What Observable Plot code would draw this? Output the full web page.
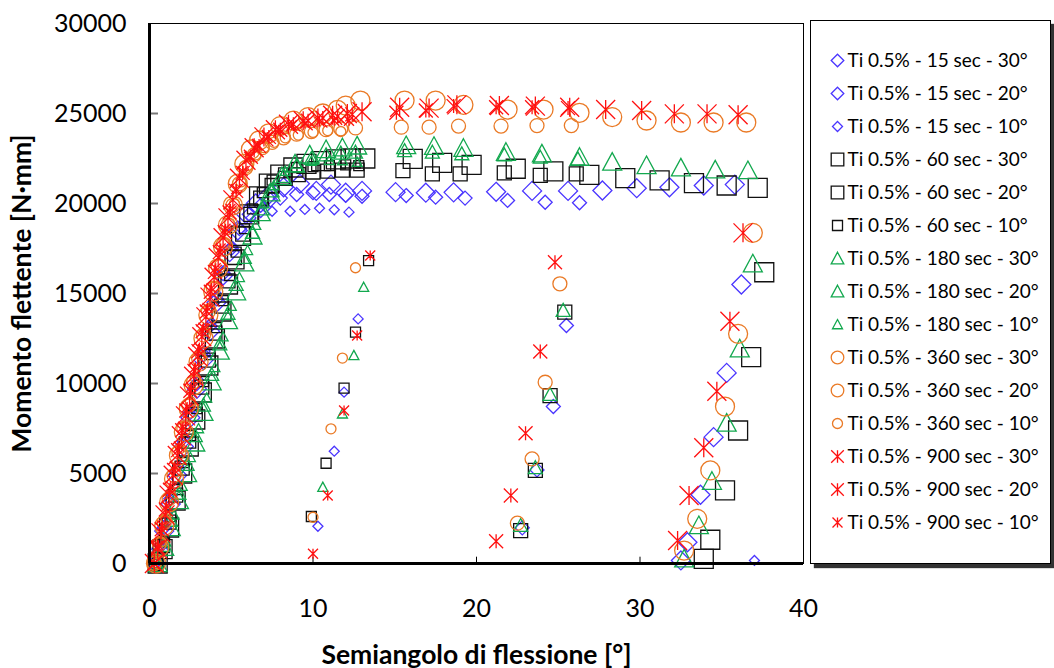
<!DOCTYPE html>
<html><head><meta charset="utf-8">
<script src="https://cdn.jsdelivr.net/npm/d3@7"></script>
<script src="https://cdn.jsdelivr.net/npm/@observablehq/plot@0.6"></script>
<style>
html,body{margin:0;padding:0;background:#fff;}
#wrap{position:relative;width:1054px;height:668px;font-family:Lato,sans-serif;}
#legend{position:absolute;left:810px;top:20px;width:241px;height:544px;box-sizing:border-box;border:1.5px solid #000;background:#fff;box-shadow:4px 4px 1px #333;}
#legend svg,#chart svg{display:block;}
</style></head><body>
<div id="wrap"><div id="chart"></div><div id="legend"></div></div>
<script>
// ---------- data ----------
const xTicks = [0, 10, 20, 30, 40];
const yTicks = [0, 5000, 10000, 15000, 20000, 25000, 30000];

const labels = [
  "Ti 0.5% - 15 sec - 30°", "Ti 0.5% - 15 sec - 20°", "Ti 0.5% - 15 sec - 10°",
  "Ti 0.5% - 60 sec - 30°", "Ti 0.5% - 60 sec - 20°", "Ti 0.5% - 60 sec - 10°",
  "Ti 0.5% - 180 sec - 30°", "Ti 0.5% - 180 sec - 20°", "Ti 0.5% - 180 sec - 10°",
  "Ti 0.5% - 360 sec - 30°", "Ti 0.5% - 360 sec - 20°", "Ti 0.5% - 360 sec - 10°",
  "Ti 0.5% - 900 sec - 30°", "Ti 0.5% - 900 sec - 20°", "Ti 0.5% - 900 sec - 10°"
];

// 15 sec (diamonds)
const s15_30 = [[0.4,0],[0.6,700],[0.9,1800],[1.3,3300],[1.7,4900],[2.1,6500],[2.5,8100],[2.9,9700],[3.3,11300],[3.7,12900],[4.1,14500],[4.5,16000],[4.9,17300],[5.4,18500],[5.9,19400],[6.5,20000],[7.2,20400],
  [8.2,20900],[9.2,21100],[10.2,20700],[11.1,21050],[12.0,20600],[13.0,20700],[15.05,20630],[16.9,20600],[18.6,20620],[21.2,20650],[23.4,20700],[25.6,20700],[27.7,20720],[29.8,20850],[31.8,20900],[33.9,21000],[35.8,21050],
  [36.2,15500],[35.3,10590],[34.5,7020],[33.7,3820],[32.9,1180],[32.5,170]];
const s15_20 = [[0.3,0],[0.6,900],[0.9,2000],[1.3,3600],[1.7,5200],[2.1,6800],[2.5,8400],[2.9,10000],[3.3,11600],[3.7,13200],[4.1,14700],[4.5,16100],[5.0,17500],[5.5,18600],[6.1,19400],[6.8,19900],[7.4,20200],
  [8.0,20300],[9.0,20500],[10.0,20600],[11.0,20500],[12.0,20450],[13.0,20400],[15.7,20440],[17.5,20350],[19.3,20300],[21.9,20170],[24.2,20070],[26.3,20040],
  [25.5,13220],[24.7,8720],[23.7,5200],[22.8,1980]];
const s15_10 = [[0.4,0],[0.7,1000],[1.0,2200],[1.4,3800],[1.8,5400],[2.2,7000],[2.6,8600],[3.0,10200],[3.4,11800],[3.8,13400],[4.2,14900],[4.6,16300],[5.1,17600],[5.6,18600],[6.2,19200],[6.8,19500],
  [7.5,19570],[8.6,19570],[9.5,19670],[10.4,19740],[11.3,19650],[12.2,19520],
  [12.76,13590],[11.9,9520],[11.3,6240],[10.3,2070],[37.0,170]];

// 60 sec (squares)
const s60_30 = [[0.5,0],[0.8,800],[1.2,2000],[1.6,3500],[2.0,5000],[2.4,6500],[2.8,8000],[3.2,9500],[3.6,11000],[4.0,12500],[4.4,14000],[4.8,15500],[5.2,16900],[5.6,18200],[6.1,19400],[6.7,20400],[7.3,21100],[8.0,21600],[8.8,22000],[9.6,22200],[10.5,22350],[11.4,22450],[12.3,22500],[13.2,22500],
  [16.1,22480],[17.9,22260],[19.7,22150],[22.4,21930],[24.7,21780],[26.9,21590],[29.1,21410],[31.2,21280],[33.3,21130],[35.3,21000],[37.2,20870],
  [37.6,16180],[36.8,11460],[36.0,7390],[35.2,4060],[34.3,1320],[33.9,260]];
const s60_20 = [[0.4,0],[0.8,1000],[1.2,2300],[1.6,3800],[2.0,5300],[2.4,6800],[2.8,8300],[3.2,9800],[3.6,11300],[4.0,12800],[4.4,14300],[4.8,15700],[5.2,17000],[5.7,18300],[6.2,19400],[6.8,20300],[7.5,21000],[8.3,21400],[9.1,21600],[10.0,21750],[10.9,21800],[11.8,21850],[12.7,21850],
  [15.5,21830],[17.3,21650],[19.0,21650],[21.7,21700],[23.9,21560],[26.1,21650],
  [25.4,13960],[24.5,9330],[23.6,5170],[22.7,1830]];
const s60_10 = [[0.5,0],[0.9,1200],[1.3,2600],[1.7,4100],[2.1,5600],[2.5,7100],[2.9,8600],[3.3,10100],[3.7,11600],[4.1,13100],[4.5,14600],[4.9,16000],[5.3,17300],[5.8,18600],[6.3,19700],[6.9,20600],[7.5,21300],[8.2,21700],[9.0,22000],[10.0,22050],[11.0,22100],[12.0,22150],[12.8,22100],
  [13.4,16830],[12.6,12850],[11.9,9740],[10.8,5570],[9.9,2610]];

// 180 sec (triangles)
const s180_30 = [[0.5,0],[0.9,900],[1.3,2000],[1.8,3500],[2.3,5000],[2.8,6700],[3.3,8400],[3.8,10100],[4.3,11800],[4.8,13500],[5.3,15100],[5.8,16700],[6.3,18200],[6.8,19500],[7.4,20600],[8.1,21500],[8.9,22200],[9.8,22700],[10.8,23000],[11.8,23100],[12.7,23200],
  [15.7,23220],[17.4,23180],[19.2,23070],[21.8,22850],[24.0,22760],[26.3,22570],[28.3,22300],[30.4,22110],[32.5,21980],[34.6,21870],[36.6,21830],
  [36.9,16650],[36.1,11930],[35.3,7800],[34.4,4570],[33.6,2110],[32.7,260]];
const s180_20 = [[0.4,0],[0.8,1000],[1.3,2400],[1.8,3900],[2.3,5500],[2.8,7100],[3.3,8800],[3.8,10500],[4.3,12200],[4.8,13900],[5.3,15500],[5.8,17000],[6.3,18400],[6.9,19700],[7.5,20700],[8.2,21500],[9.0,22100],[9.9,22500],[10.8,22700],[11.7,22800],[12.6,22850],
  [15.6,22940],[17.3,22850],[19.1,22760],[21.7,22700],[23.9,22570],[26.2,22480],
  [25.3,14060],[24.5,9390],[23.6,5320],[22.7,2110]];
const s180_10 = [[0.5,0],[1.0,1200],[1.5,2700],[2.0,4300],[2.5,5900],[3.0,7500],[3.5,9200],[4.0,10900],[4.5,12600],[5.0,14300],[5.5,15900],[6.0,17400],[6.5,18800],[7.0,20000],[7.6,21000],[8.3,21800],[9.0,22200],[9.9,22350],[11.0,22400],[11.8,22390],[12.7,22300],
  [13.1,15350],[12.5,11560],[11.8,8320],[10.6,4240]];

// 360 sec (circles)
const s360_30 = [[0.4,0],[0.6,900],[0.9,2100],[1.2,3400],[1.5,4700],[1.8,6000],[2.1,7300],[2.4,8600],[2.7,9900],[3.0,11200],[3.3,12500],[3.6,13800],[3.9,15100],[4.2,16400],[4.5,17600],[4.8,18800],[5.1,19900],[5.4,21100],[5.8,22200],[6.2,23000],[6.7,23500],[7.3,23900],[8.0,24300],[8.8,24600],[9.7,24800],[10.6,25000],[11.5,25200],[12.0,25440],[12.9,25720],
  [15.6,25720],[17.5,25720],[19.2,25480],[21.9,25220],[24.1,25220],[26.3,25040],[28.3,24800],[30.4,24610],[32.5,24500],[34.5,24500],[36.5,24500],
  [36.9,18370],[36.0,12760],[35.2,8720],[34.3,5170],[33.5,2480],[32.7,720]];
const s360_20 = [[0.3,0],[0.6,1100],[0.9,2300],[1.2,3600],[1.5,4900],[1.8,6200],[2.1,7500],[2.4,8800],[2.7,10100],[3.0,11400],[3.3,12700],[3.6,14000],[3.9,15300],[4.2,16500],[4.5,17700],[4.8,18800],[5.1,19900],[5.5,21100],[5.9,22000],[6.4,22700],[6.9,23100],[7.5,23400],[8.2,23650],[9.0,23850],[9.9,24000],[10.8,24100],[11.7,24150],[12.6,24200],
  [15.4,24240],[17.1,24240],[18.9,24300],[21.5,24300],[23.7,24330],[25.8,24330],
  [25.1,15540],[24.2,10070],[23.4,5810],[22.5,2240]];
const s360_10 = [[0.4,0],[0.7,1200],[1.0,2500],[1.3,3800],[1.6,5100],[1.9,6400],[2.2,7700],[2.5,9000],[2.8,10300],[3.1,11600],[3.4,12900],[3.7,14200],[4.0,15400],[4.3,16600],[4.6,17800],[4.9,18900],[5.2,20000],[5.6,21200],[6.0,22100],[6.5,22700],[7.0,23100],[7.6,23400],[8.3,23650],[9.1,23800],[10.0,23950],[10.9,24050],[11.7,24000],
  [12.6,16430],[11.8,11410],[11.1,7480],[10.0,2570]];

// 900 sec (asterisks)
const s900_30 = [[0.3,0],[0.5,800],[0.7,1700],[0.95,2700],[1.2,3800],[1.45,4900],[1.7,6000],[1.95,7100],[2.2,8200],[2.45,9300],[2.7,10400],[2.95,11500],[3.2,12600],[3.45,13700],[3.7,14800],[3.95,15900],[4.2,17000],[4.5,18100],[4.8,19200],[5.1,20200],[5.5,21400],[5.9,22400],[6.4,23100],[7.0,23700],[7.7,24100],[8.5,24400],[9.4,24600],[10.3,24750],[11.2,24900],[12.1,25000],[13.0,25100],
  [15.3,25350],[17.1,25300],[18.8,25480],[21.4,25440],[23.6,25410],[25.7,25350],[27.9,25220],[30.1,25170],[32.1,24980],[34.1,24980],[36.0,24930],
  [36.3,18370],[35.5,13460],[34.7,9570],[33.9,6430],[33.0,3780],[32.3,1280]];
const s900_20 = [[0.3,0],[0.5,900],[0.75,1900],[1.0,3000],[1.25,4100],[1.5,5200],[1.75,6300],[2.0,7400],[2.25,8500],[2.5,9600],[2.75,10700],[3.0,11800],[3.25,12900],[3.5,14000],[3.75,15100],[4.0,16200],[4.3,17300],[4.6,18400],[4.9,19500],[5.3,20700],[5.7,21700],[6.2,22600],[6.7,23200],[7.3,23700],[8.0,24100],[8.8,24400],[9.7,24600],[10.6,24750],[11.5,24850],[12.4,24950],
  [15.1,25040],[16.9,25170],[18.6,25410],[21.2,25350],[23.4,25350],[25.6,25300],
  [24.8,16740],[23.9,11780],[23.0,7240],[22.1,3780],[21.2,1240]];
const s900_10 = [[0.3,0],[0.55,1000],[0.8,2100],[1.05,3200],[1.3,4300],[1.55,5400],[1.8,6500],[2.05,7600],[2.3,8700],[2.55,9800],[2.8,10900],[3.05,12000],[3.3,13100],[3.55,14200],[3.8,15300],[4.05,16400],[4.35,17500],[4.65,18600],[4.95,19700],[5.3,20800],[5.7,21800],[6.1,22600],[6.6,23200],[7.2,23700],[7.9,24100],[8.7,24350],[9.5,24450],[10.4,24550],[11.3,24600],[12.2,24600],
  [13.5,17110],[12.7,12670],[11.9,8500],[10.9,3780],[10.0,540]];

const seriesData = [s15_30, s15_20, s15_10, s60_30, s60_20, s60_10, s180_30, s180_20, s180_10, s360_30, s360_20, s360_10, s900_30, s900_20, s900_10];

// ---------- styles ----------
const symDiamond = {draw(c, s) { const h = Math.sqrt(s / Math.PI); c.moveTo(0, -h); c.lineTo(h, 0); c.lineTo(0, h); c.lineTo(-h, 0); c.closePath(); }};
const symSquare = {draw(c, s) { const h = Math.sqrt(s / Math.PI); c.moveTo(-h, -h); c.lineTo(h, -h); c.lineTo(h, h); c.lineTo(-h, h); c.closePath(); }};
const symTriangle = {draw(c, s) { const h = Math.sqrt(s / Math.PI); c.moveTo(0, -h); c.lineTo(h, h * 0.85); c.lineTo(-h, h * 0.85); c.closePath(); }};
const symCircle = {draw(c, s) { const h = Math.sqrt(s / Math.PI); c.moveTo(h, 0); c.arc(0, 0, h, 0, 2 * Math.PI); c.closePath(); }};
const symStar = {draw(c, s) { const h = Math.sqrt(s / Math.PI); c.moveTo(0, -h); c.lineTo(0, h); c.moveTo(-h, -h); c.lineTo(h, h); c.moveTo(-h, h); c.lineTo(h, -h); }};

const groupSymbols = [symDiamond, symSquare, symTriangle, symCircle, symStar];
const groupColors = ["#4A35FF", "#111111", "#12A84E", "#EA7A26", "#FF1010"];
const plotSizes = [9.5, 7, 5];
const legendSizes = [6.3, 6.3, 5];

// ---------- main chart ----------
const marks = [
  Plot.frame({stroke: "#000", strokeWidth: 1}),
  Plot.ruleY(yTicks.filter(v => v > 0 && v < 30000), {x1: 0, x2: 0.55, stroke: "#777", strokeWidth: 2}),
  Plot.ruleX(xTicks.filter(v => v > 0 && v < 40), {y1: 0, y2: 350, stroke: "#000", strokeWidth: 1}),
  Plot.axisY(yTicks, {tickSize: 0, tickPadding: 23, tickFormat: d3.format("d"), label: null, fontSize: 25}),
  Plot.axisX(xTicks, {tickSize: 0, tickPadding: 36, label: null, fontSize: 25}),
  Plot.text(["Momento flettente [N·mm]"], {frameAnchor: "left", dx: -127, rotate: -90, textAnchor: "middle", lineAnchor: "middle", fontSize: 26.5, fontWeight: "bold"}),
  Plot.text(["Semiangolo di flessione [°]"], {frameAnchor: "bottom", dy: 92, textAnchor: "middle", lineAnchor: "middle", fontSize: 26.5, fontWeight: "bold"})
];
seriesData.forEach((data, i) => {
  const g = Math.floor(i / 3), k = i % 3;
  marks.push(Plot.dot(data, {x: d => d[0], y: d => d[1], symbol: groupSymbols[g], r: plotSizes[k], stroke: groupColors[g], fill: "none", strokeWidth: 1.3}));
});
marks.push(Plot.ruleX([0], {stroke: "#000", strokeWidth: 3}));
marks.push(Plot.ruleY([0], {stroke: "#000", strokeWidth: 3}));

const chart = Plot.plot({
  width: 1054, height: 668,
  marginLeft: 149, marginRight: 251, marginTop: 23, marginBottom: 105,
  x: {domain: [0, 40]},
  y: {domain: [0, 30000]},
  style: {fontFamily: "Lato, sans-serif", fontSize: "25px", color: "#000", background: "white", overflow: "visible"},
  marks
});
document.getElementById("chart").appendChild(chart);

// ---------- legend ----------
const legMarks = [];
labels.forEach((lab, i) => {
  const g = Math.floor(i / 3), k = i % 3;
  legMarks.push(Plot.dot([lab], {y: d => d, frameAnchor: "left", dx: 26, symbol: groupSymbols[g], r: legendSizes[k], stroke: groupColors[g], fill: "none", strokeWidth: 1.3}));
});
legMarks.push(Plot.text(labels, {y: d => d, text: d => d, frameAnchor: "left", dx: 36, textAnchor: "start", fontSize: 19, fill: "#000"}));
const legend = Plot.plot({
  width: 238, height: 541,
  margin: 0,
  y: {type: "point", domain: labels, range: [17, 523], axis: null},
  style: {fontFamily: "Lato, sans-serif", background: "white", overflow: "visible"},
  marks: legMarks
});
document.getElementById("legend").appendChild(legend);
</script></body></html>
